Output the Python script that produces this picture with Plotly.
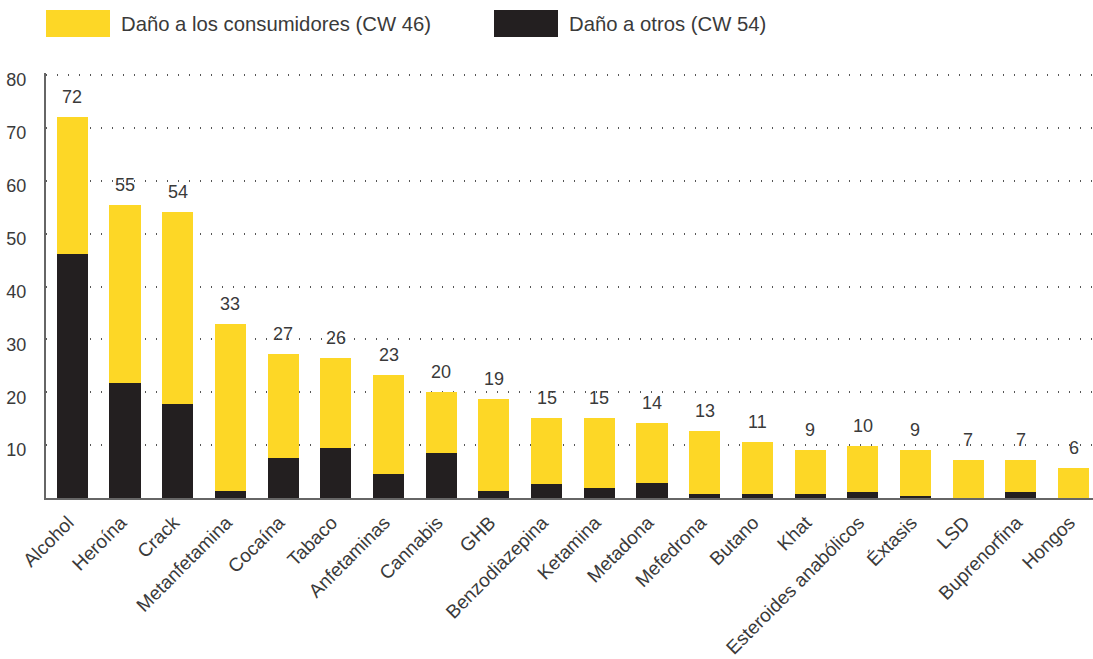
import plotly.graph_objects as go

categories = ["Alcohol", "Heroína", "Crack", "Metanfetamina", "Cocaína", "Tabaco",
              "Anfetaminas", "Cannabis", "GHB", "Benzodiazepina", "Ketamina", "Metadona",
              "Mefedrona", "Butano", "Khat", "Esteroides anabólicos", "Éxtasis", "LSD",
              "Buprenorfina", "Hongos"]
# harm to others (black, bottom segment)
harm_others = [46.1, 21.7, 17.7, 1.3, 7.5, 9.5, 4.5, 8.5, 1.3, 2.6, 1.9, 2.8,
               0.7, 0.7, 0.7, 1.2, 0.3, 0.0, 1.2, 0.0]
# total harm (bar height)
totals = [72.1, 55.4, 54.2, 32.9, 27.2, 26.5, 23.3, 20.1, 18.7, 15.1, 15.1, 14.2,
          12.7, 10.6, 9.0, 9.8, 9.0, 7.1, 7.1, 5.6]
total_labels = ["72", "55", "54", "33", "27", "26", "23", "20", "19", "15", "15", "14",
                "13", "11", "9", "10", "9", "7", "7", "6"]
harm_users = [round(t - o, 2) for t, o in zip(totals, harm_others)]
y_ticks = [10, 20, 30, 40, 50, 60, 70, 80]

YELLOW = "#FDD726"
BLACK = "#231F20"
FONT = "Liberation Sans"
TXT = "#3a3a3a"

W, H = 1093, 659
ML, MR, MT, MB = 46, 0, 73, 161
PW, PH = W - ML - MR, H - MT - MB

fig = go.Figure()
fig.add_trace(go.Bar(x=categories, y=harm_others, marker_color=BLACK,
                     marker_line_width=0,
                     name="Daño a otros (CW 54)", showlegend=False))
fig.add_trace(go.Bar(x=categories, y=harm_users, marker_color=YELLOW,
                     marker_line_width=0,
                     name="Daño a los consumidores (CW 46)", showlegend=False))

for c, t, lab in zip(categories, totals, total_labels):
    fig.add_annotation(x=c, y=t, text=lab, showarrow=False, yanchor="middle",
                       yshift=20, font=dict(family=FONT, size=18, color=TXT))

# legend drawn as swatches + text
legend_items = [("Daño a los consumidores (CW 46)", YELLOW, 46),
                ("Daño a otros (CW 54)", BLACK, 494)]
for label, col, x0 in legend_items:
    fig.add_shape(type="rect", xref="paper", yref="paper",
                  x0=(x0 - ML) / PW, x1=(x0 + 64 - ML) / PW,
                  y0=(H - MB - 37) / PH, y1=(H - MB - 10) / PH,
                  fillcolor=col, line_width=0)
    fig.add_annotation(text=label, xref="paper", yref="paper",
                       x=(x0 + 73 - ML) / PW, y=(H - MB - 23.5) / PH,
                       xanchor="left", yanchor="middle", showarrow=False,
                       font=dict(family=FONT, size=20.3, color=TXT))

fig.update_layout(
    barmode="stack",
    bargap=0.41,
    width=W, height=H,
    margin=dict(l=ML, r=MR, t=MT, b=MB),
    plot_bgcolor="white", paper_bgcolor="white",
    font=dict(family=FONT, color=TXT),
    xaxis=dict(range=[-0.5, 19.37], tickangle=-45, automargin=False,
               tickfont=dict(family=FONT, size=19, color=TXT),
               showline=True, linecolor="#666666", linewidth=2,
               showgrid=False, ticks="", ticklabelstandoff=4,
               ticklabelshift=-4),
    yaxis=dict(range=[0, 80.4], tickvals=y_ticks, automargin=False,
               tickfont=dict(family=FONT, size=18, color=TXT),
               showline=True, linecolor="#666666", linewidth=2,
               showgrid=True, gridcolor="#555555", gridwidth=1.5,
               griddash="1px,10px", zeroline=False, ticks="",
               ticklabelstandoff=14, ticklabelshift=5),
)

fig.write_html("out.html", post_script="document.body.style.margin='0';",
               config={"displayModeBar": False})
